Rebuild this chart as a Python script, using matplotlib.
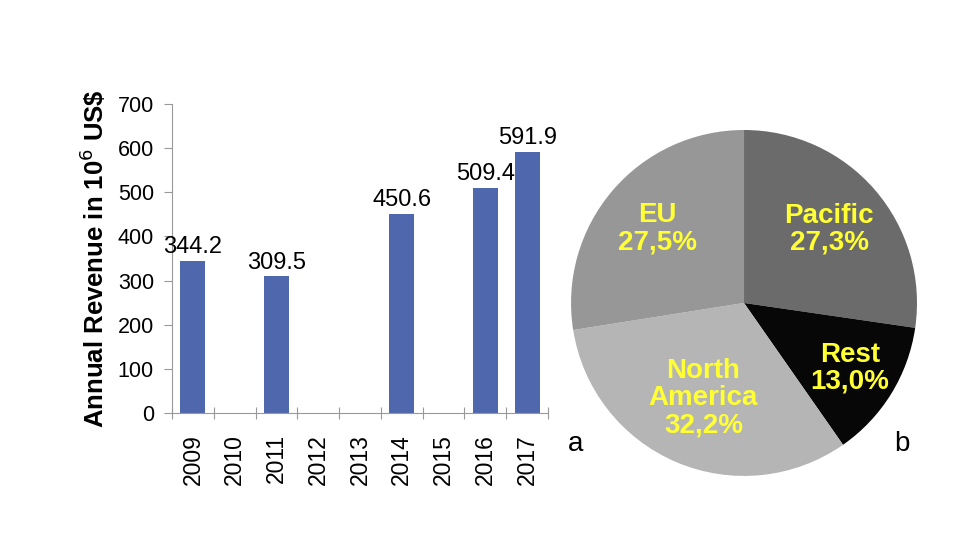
import matplotlib
matplotlib.use('agg')
import matplotlib.pyplot as plt
import numpy as np

plt.rcParams['font.family'] = ['Liberation Sans', 'DejaVu Sans']

years = ['2009', '2010', '2011', '2012', '2013', '2014', '2015', '2016', '2017']
revenue = [344.2, None, 309.5, None, None, 450.6, None, 509.4, 591.9]

regions = ['Pacific', 'Rest', 'North\nAmerica', 'EU']
shares = [27.3, 13.0, 32.2, 27.5]
share_text = ['27,3%', '13,0%', '32,2%', '27,5%']
slice_colors = ['#6b6b6b', '#070707', '#b5b5b5', '#979797']
label_r = [0.65, 0.72, 0.6, 0.66]

fig = plt.figure(figsize=(9.8, 5.6), dpi=100)

# bar chart (a)
ax = fig.add_axes([0.1755, 0.2625, 0.3837, 0.5518])
xs = np.arange(len(years))
vals = [v if v is not None else 0 for v in revenue]
bars = ax.bar(xs, vals, width=0.6, color='#4f67ad')
for x, v in zip(xs, revenue):
    if v is not None:
        ax.text(x, v + 6, f"{v:.1f}", ha='center', va='bottom', fontsize=17)
ax.set_xlim(-0.5, len(years) - 0.5)
ax.set_ylim(0, 700)
ax.set_yticks(range(0, 701, 100))
ax.set_xticks(np.arange(len(years) + 1) - 0.5, minor=False)
ax.set_xticklabels([])
ax.set_xticks(xs, minor=True)
ax.set_xticklabels(years, minor=True, rotation=90, fontsize=16.5)
ax.tick_params(axis='x', which='minor', length=0, pad=15)
ax.tick_params(axis='x', which='major', length=9, direction='inout', color='#999999')
ax.tick_params(axis='y', length=6, color='#999999', labelsize=15.5, pad=7)
for s in ['top', 'right']:
    ax.spines[s].set_visible(False)
ax.spines['left'].set_color('#999999')
ax.spines['bottom'].set_color('#999999')
ax.set_ylabel('Annual Revenue in 10$^6$ US\\$', fontsize=18.5, fontweight='bold', labelpad=6)
fig.text(0.587, 0.207, 'a', fontsize=20, ha='center', va='center')

# pie chart (b)
pax = fig.add_axes([0.5827, 0.15, 0.353, 0.618])
wedges, _ = pax.pie(shares, colors=slice_colors, startangle=90, counterclock=False,
                    wedgeprops=dict(linewidth=0))
for w, name, pct, r in zip(wedges, regions, share_text, label_r):
    ang = np.deg2rad((w.theta1 + w.theta2) / 2)
    pax.text(r * np.cos(ang), r * np.sin(ang), name + '\n' + pct, ha='center', va='center',
             color='#ffff33', fontsize=20, fontweight='bold', linespacing=1.05)
pax.set_xlim(-1, 1)
pax.set_ylim(-1, 1)
pax.set_aspect('equal')
fig.text(0.92, 0.207, 'b', fontsize=20, ha='center', va='center')

fig.savefig('out.png', dpi=100)
